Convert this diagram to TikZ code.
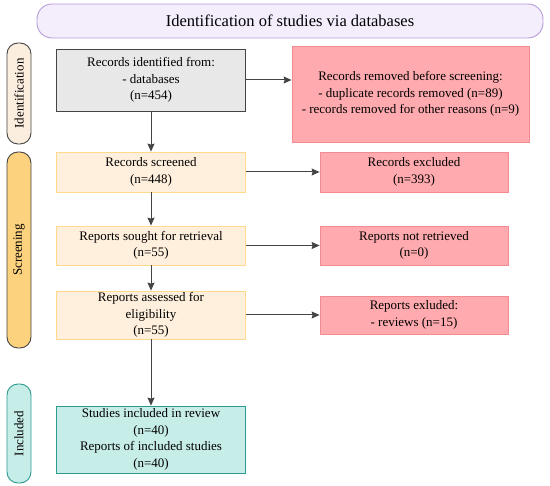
\documentclass[tikz,border=0pt]{standalone}
\usepackage{fontspec}
\setmainfont{Liberation Serif}
\usetikzlibrary{arrows.meta}
\definecolor{titlefill}{HTML}{F4EEFC}
\definecolor{titledraw}{HTML}{B59BD9}
\definecolor{identfill}{HTML}{FCEEDF}
\definecolor{screenfill}{HTML}{FDD27F}
\definecolor{inclfill}{HTML}{C6EDE8}
\definecolor{incldraw}{HTML}{2E9A8F}
\definecolor{grayfill}{HTML}{E8E8E8}
\definecolor{beigefill}{HTML}{FFF0DD}
\definecolor{beigedraw}{HTML}{FFD98C}
\definecolor{redfill}{HTML}{FFAAAE}
\definecolor{reddraw}{HTML}{F28C90}
\definecolor{linegray}{HTML}{444444}
\tikzset{
  box/.style={rectangle, align=center, font=\fontsize{13}{16.5}\selectfont, inner sep=0pt, line width=0.8pt},
  graybox/.style={box, fill=grayfill, draw=linegray},
  beigebox/.style={box, fill=beigefill, draw=beigedraw},
  redbox/.style={box, fill=redfill, draw=reddraw},
  inclbox/.style={box, fill=inclfill, draw=incldraw},
  sidelabel/.style={rectangle, rounded corners=11pt, rotate=90, font=\fontsize{13}{14}\selectfont, inner sep=0pt, line width=0.9pt},
  arr/.style={draw=linegray, line width=1pt, -{Stealth[length=8pt,width=7pt,inset=1pt]}},
}
\begin{document}
\begin{tikzpicture}[x=1pt,y=-1pt]
\useasboundingbox (0,0) rectangle (550,486);
\node[rectangle, rounded corners=15pt, draw=titledraw, fill=titlefill, line width=0.9pt,
  minimum width=506pt, minimum height=34pt, inner sep=0pt, font=\fontsize{16.5}{18}\selectfont]
  (title) at (290,21) {Identification of studies via databases};
\node[sidelabel, fill=identfill, draw=linegray, minimum width=101pt, minimum height=24pt] (lid) at (19,93.5) {Identification};
\node[sidelabel, fill=screenfill, draw=linegray, minimum width=196pt, minimum height=24pt] (lsc) at (19,250) {Screening};
\node[sidelabel, fill=inclfill, draw=incldraw, minimum width=99pt, minimum height=24pt] (lin) at (19,433.5) {Included};

\node[graybox, minimum width=189pt, minimum height=62pt] (a) at (151,80) {Records identified from:\\- databases\\(n=454)};
\node[redbox, minimum width=237pt, minimum height=96pt] (r1) at (410.5,94) {Records removed before screening:\\- duplicate records removed (n=89)\\- records removed for other reasons (n=9)};

\node[beigebox, minimum width=189pt, minimum height=40pt] (b) at (151,172) {Records screened\\(n=448)};
\node[redbox, minimum width=188pt, minimum height=40pt] (r2) at (414,172) {Records excluded\\(n=393)};

\node[beigebox, minimum width=189pt, minimum height=39pt] (c) at (151,245.5) {Reports sought for retrieval\\(n=55)};
\node[redbox, minimum width=188pt, minimum height=39pt] (r3) at (414,245.5) {Reports not retrieved\\(n=0)};

\node[beigebox, minimum width=189pt, minimum height=48pt] (d) at (151,315) {Reports assessed for\\eligibility\\(n=55)};
\node[redbox, minimum width=188pt, minimum height=38pt] (r4) at (414,315) {Reports exluded:\\- reviews (n=15)};

\node[inclbox, minimum width=189pt, minimum height=67pt] (e) at (151,439.5) {Studies included in review\\(n=40)\\Reports of included studies\\(n=40)};

\draw[arr] (a.east) -- (a.east -| r1.west);
\draw[arr] (a) -- (b);
\draw[arr] (b) -- (r2);
\draw[arr] (b) -- (c);
\draw[arr] (c) -- (r3);
\draw[arr] (c) -- (d);
\draw[arr] (d) -- (r4);
\draw[arr] (d) -- (e);
\end{tikzpicture}
\end{document}
